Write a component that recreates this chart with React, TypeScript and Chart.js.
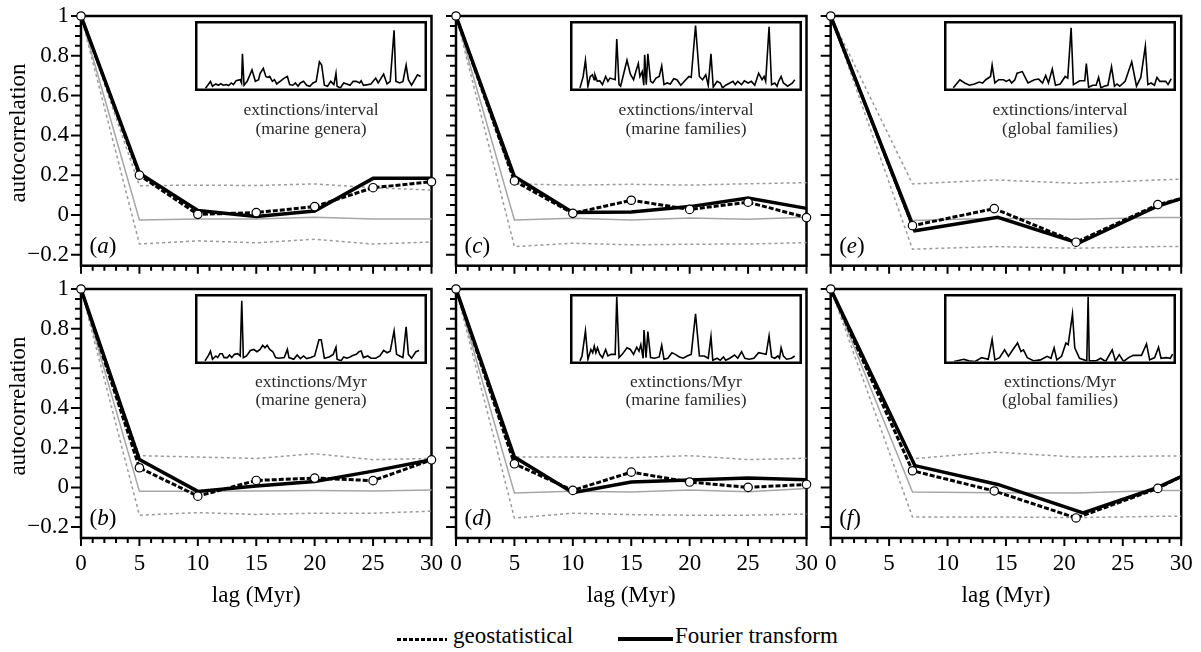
import React, { useEffect, useRef } from 'react';
import { Chart, registerables } from 'chart.js';

Chart.register(...registerables);

const FONT = "'Liberation Serif', 'Times New Roman', Times, serif";
Chart.defaults.font.family = FONT;

// ---------- axis ticks ----------
const xTickValues = [0, 5, 10, 15, 20, 25, 30];
const yTickValues = [-0.2, 0, 0.2, 0.4, 0.6, 0.8, 1];
const X_MIN = 0, X_MAX = 30, Y_MIN = -0.255, Y_MAX = 1;

// ---------- lags ----------
const lags5 = [0, 5, 10, 15, 20, 25, 30];
const lags7 = [0, 7, 14, 21, 28, 30];
const lagsFourierE = [0, 7.2, 14.3, 21.2, 28, 30];
const lagsFourierF = [0, 7.2, 14.3, 21.6, 28, 30];

// ---------- panel (a) ----------
const geoA = [1, 0.2, 0.003, 0.012, 0.042, 0.137, 0.167];
const fourierA = [1, 0.21, 0.022, -0.008, 0.02, 0.184, 0.184];
const meanA = [1, -0.025, -0.02, -0.02, -0.012, -0.02, -0.02];
const upperA = [1, 0.147, 0.15, 0.148, 0.156, 0.137, 0.125];
const lowerA = [1, -0.146, -0.13, -0.14, -0.122, -0.146, -0.136];
// ---------- panel (b) ----------
const geoB = [1, 0.099, -0.044, 0.035, 0.047, 0.034, 0.139];
const fourierB = [1, 0.14, -0.02, 0.007, 0.03, 0.082, 0.139];
const meanB = [1, -0.02, -0.02, -0.018, -0.015, -0.018, -0.013];
const upperB = [1, 0.16, 0.153, 0.146, 0.17, 0.14, 0.146];
const lowerB = [1, -0.14, -0.127, -0.136, -0.13, -0.13, -0.12];
// ---------- panel (c) ----------
const geoC = [1, 0.171, 0.008, 0.074, 0.028, 0.064, -0.013];
const fourierC = [1, 0.193, 0.013, 0.015, 0.042, 0.085, 0.033];
const meanC = [1, -0.025, -0.017, -0.025, -0.015, -0.022, -0.012];
const upperC = [1, 0.156, 0.15, 0.154, 0.15, 0.157, 0.162];
const lowerC = [1, -0.159, -0.142, -0.15, -0.147, -0.146, -0.139];
// ---------- panel (d) ----------
const geoD = [1, 0.119, -0.015, 0.077, 0.027, 0.0, 0.015];
const fourierD = [1, 0.153, -0.027, 0.027, 0.037, 0.047, 0.039];
const meanD = [1, -0.028, -0.02, -0.023, -0.013, -0.022, -0.005];
const upperD = [1, 0.153, 0.153, 0.15, 0.16, 0.14, 0.147];
const lowerD = [1, -0.154, -0.13, -0.137, -0.14, -0.14, -0.134];
// ---------- panel (e) ----------
const geoE = [1, -0.054, 0.032, -0.137, 0.052, 0.082];
const fourierE = [1, -0.079, -0.012, -0.142, 0.045, 0.082];
const meanE = [1, -0.028, -0.017, -0.022, -0.013, -0.013];
const upperE = [1, 0.156, 0.176, 0.159, 0.176, 0.18];
const lowerE = [1, -0.172, -0.159, -0.167, -0.159, -0.159];
// ---------- panel (f) ----------
const geoF = [1, 0.084, -0.018, -0.154, -0.005, 0.055];
const fourierF = [1, 0.11, 0.015, -0.129, 0.0, 0.055];
const meanF = [1, -0.023, -0.027, -0.028, -0.015, -0.015];
const upperF = [1, 0.144, 0.178, 0.153, 0.158, 0.158];
const lowerF = [1, -0.149, -0.149, -0.152, -0.146, -0.146];

// ---------- inset time series (arbitrary units, [time, value]) ----------
const insetA: [number, number][] = [
  [3.5, 0], [5.7, 11], [6.6, 3.5], [8.1, 7], [9.2, 5], [10.3, 7.5], [11.3, 5], [12.7, 6], [13.7, 4.5], [14.9, 8.5],
  [15.8, 6], [17.0, 12], [18.8, 13.5], [19.4, 8.5], [19.8, 53.5], [20.5, 5], [21.9, 11], [24.0, 28.5], [25.5, 11], [26.9, 13.5],
  [27.6, 23.5], [29.0, 31], [30.1, 18.5], [31.1, 17], [31.8, 18.5], [33.0, 11], [33.9, 13.5], [34.9, 7], [36.8, 12], [38.2, 16],
  [39.6, 18.5], [40.6, 6], [42.0, 5], [43.1, 8.5], [44.3, 3.5], [45.3, 8.5], [46.7, 11], [48.1, 5], [49.5, 3.5], [50.9, 8.5],
  [52.3, 11], [53.7, 41], [54.7, 36], [55.9, 5], [57.3, 3.5], [58.7, 11], [60.1, 6], [61.0, 23.5], [61.5, 3.5], [62.9, 1],
  [64.4, 8.5], [65.8, 7], [67.2, 5], [68.6, 11], [70.0, 11], [71.4, 8.5], [72.1, 12], [73.1, 5], [75.0, 6], [76.4, 7],
  [78.5, 16], [79.6, 8.5], [82.0, 22], [83.5, 7], [84.9, 11], [86.6, 89.5], [87.4, 11], [89.1, 8.5], [90.5, 11], [91.9, 36],
  [92.9, 13.5], [94.3, 5], [96.9, 21], [98.3, 18.5],
];
const insetB: [number, number][] = [
  [3.3, 1], [4.7, 8.5], [5.7, 16], [6.6, 3.5], [8.1, 8.5], [8.9, 6], [9.9, 12], [10.9, 12], [11.7, 6], [13.2, 6],
  [14.1, 10], [15.1, 6], [16.3, 11], [17.7, 12], [18.8, 8.5], [19.5, 93.5], [20.2, 6], [21.6, 8.5], [23.3, 17], [24.8, 18.5],
  [26.2, 15], [27.6, 18.5], [28.7, 25], [29.7, 21], [30.7, 25], [31.8, 18.5], [33.2, 15], [34.4, 6], [35.8, 5], [38.2, 6],
  [39.6, 18.5], [40.3, 6], [42.4, 3.5], [43.9, 10], [45.3, 4.5], [46.7, 8.5], [48.1, 4.5], [49.9, 6], [51.6, 8.5], [53.5, 33.5],
  [54.5, 33.5], [55.9, 5], [58.0, 7], [59.8, 11], [61.0, 22], [61.5, 3.5], [63.2, 1], [64.4, 7], [65.8, 5], [67.2, 7],
  [68.6, 9.5], [70.0, 11], [71.1, 15], [72.1, 16], [73.1, 6], [75.0, 8.5], [76.4, 5], [78.5, 5], [80.3, 8.5], [82.0, 17],
  [83.5, 13.5], [84.9, 16], [86.6, 47], [87.7, 11], [89.1, 8.5], [90.5, 6], [91.9, 53.5], [92.9, 11], [94.3, 5], [96.2, 15],
  [97.6, 17],
];
const insetC: [number, number][] = [
  [3.3, 1], [4.7, 18.5], [5.7, 43.5], [6.8, 3.5], [7.8, 18.5], [8.8, 21], [9.5, 13.5], [9.9, 21], [10.9, 11], [12.0, 12],
  [13.2, 6], [14.6, 18.5], [15.6, 11], [16.5, 16], [18.8, 13.5], [19.5, 76], [20.5, 6], [21.2, 3.5], [22.6, 23.5], [24.0, 43.5],
  [25.5, 22], [26.9, 13.5], [27.9, 26], [29.0, 38.5], [29.7, 18.5], [30.7, 26], [31.4, 5], [31.8, 52], [32.5, 6], [33.2, 53.5],
  [34.4, 11], [35.4, 8.5], [36.8, 16], [38.2, 18.5], [39.3, 35], [40.3, 6], [41.7, 8.5], [43.1, 7], [44.6, 15], [46.0, 13.5],
  [47.7, 5], [49.5, 12], [51.3, 18.5], [52.3, 17], [54.2, 97], [55.9, 18.5], [57.3, 13.5], [58.7, 21], [59.8, 5], [61.0, 53.5],
  [62.0, 2], [63.7, 11], [65.1, 8.5], [66.1, 1], [67.5, 5], [69.3, 8.5], [70.7, 11], [71.7, 6], [72.8, 11], [74.5, 6],
  [75.7, 12], [77.4, 8.5], [78.8, 11], [80.3, 5], [82.0, 23.5], [83.5, 13.5], [84.4, 18.5], [85.1, 11], [86.6, 95], [87.7, 6],
  [89.1, 8.5], [90.1, 3.5], [90.8, 11], [91.9, 18.5], [92.9, 8.5], [94.8, 3.5], [96.9, 8.5], [97.9, 13.5],
];
const insetD: [number, number][] = [
  [3.3, 1], [4.2, 8.5], [5.7, 47], [6.8, 3.5], [8.1, 18.5], [8.9, 13.5], [9.6, 23.5], [10.3, 13.5], [11.0, 21], [12.0, 11],
  [13.2, 6], [14.6, 18.5], [15.6, 8.5], [17.0, 11], [18.8, 11], [19.5, 100], [20.5, 6], [21.9, 11], [24.0, 21], [25.5, 18.5],
  [26.9, 11], [28.3, 22], [29.3, 16], [30.1, 26], [31.1, 5], [31.5, 48.5], [32.4, 6], [33.2, 46], [34.4, 6], [36.1, 5],
  [38.2, 7], [39.3, 25], [40.3, 3.5], [42.0, 5], [43.8, 13.5], [45.3, 11], [47.1, 7], [48.8, 5], [50.5, 8.5], [52.3, 11],
  [54.2, 73.5], [55.9, 8.5], [58.0, 8.5], [59.8, 5], [61.0, 38.5], [61.8, 2], [63.7, 5], [65.1, 2], [66.5, 7], [67.5, 2],
  [69.3, 5], [71.4, 10], [72.8, 5], [74.5, 15], [75.9, 5], [77.8, 3.5], [79.9, 5], [82.0, 13.5], [84.2, 12], [85.3, 11],
  [86.6, 39.5], [87.7, 7], [89.1, 5], [90.5, 8.5], [91.2, 5], [91.9, 21], [92.9, 8.5], [94.3, 3.5], [96.5, 5], [97.9, 8.5],
];
const insetE: [number, number][] = [
  [3, 1], [5.9, 13.5], [8, 8.5], [10.1, 5], [12.3, 7], [14.4, 10], [15.9, 8.5], [17.3, 13.5], [19.4, 18.5], [20.1, 36],
  [21.3, 8.5], [23, 13.5], [25.1, 13.5], [26.3, 11], [27.7, 13.5], [28.7, 8.5], [30.1, 13.5], [31.1, 23.5], [33.4, 26], [35.9, 8.5],
  [38.7, 13.5], [40.6, 14.5], [42.3, 8.5], [43.7, 20], [44.9, 8.5], [46.6, 30], [48, 5], [50.1, 7], [52.3, 18.5], [53.4, 16],
  [54.9, 93.5], [55.9, 6], [58.7, 12], [60.9, 12], [61.6, 38.5], [62.6, 2], [64.4, 5], [65.9, 5], [67, 17], [68, 1],
  [69.4, 3.5], [71.1, 5], [72.7, 33.5], [74, 3.5], [75.1, 7], [76.3, 3.5], [78.7, 11], [81.6, 41], [83.7, 3.5], [85.6, 17],
  [87.6, 65], [88.7, 6], [90.1, 8.5], [91.6, 5], [92.7, 17], [94, 11], [96.6, 11], [97.6, 6], [99, 15],
];
const insetF: [number, number][] = [
  [3.3, 0], [7.6, 3.5], [9.8, 1], [12.6, 0], [15.5, 6], [18.4, 3.5], [20.1, 34], [21.3, 2.5], [23.4, 6], [25.6, 18],
  [27.3, 8], [29.2, 18], [31.3, 28.5], [32.8, 15.5], [33.9, 18], [35.6, 6], [38.5, 1], [41.4, 2.5], [44.3, 8], [46, 5],
  [47.4, 21], [48.6, 2.5], [50.7, 8], [52.6, 28.5], [53.6, 26], [55.5, 73], [56.5, 21], [58.6, 5], [61.8, 1], [62.4, 100],
  [62.9, 1], [65.8, 1], [67.9, 5], [70.1, 0], [73, 18], [74.4, 1], [76.1, 10.5], [78, 0], [80.2, 6], [82.3, 9.5],
  [85.9, 9.5], [88.1, 27], [89.5, 2.5], [91.7, 6], [93.4, 22], [94.5, 5], [96.7, 6], [98.6, 5], [99.6, 11.5],
];

// ---------- layout ----------
const COL_CANVAS_LEFT = [0, 375, 750];
const CANVAS_W = 460;
const COL_PLOT_LEFT = [81, 81, 80.7];
const PLOT_W = 350.5;
const ROW_CANVAS_TOP = [-12, 261];
const ROW_CANVAS_H = [308, 349];
const ROW_PLOT_TOP = [28, 28];
const ROW_PLOT_H = [249.7, 249];
const INSET_LEFT = [195, 570, 944];
const INSET_TOP = [21, 294];
const INSET_W = 232;
const INSET_H = 70;
const CAPTION_TOP = [100, 371.5];

type PanelDef = {
  letter: string; col: number; row: number;
  geoX: number[]; geo: number[]; fourierX: number[]; fourier: number[];
  bandX: number[]; mean: number[]; upper: number[]; lower: number[];
  edgeLastPoint: boolean; caption: string[]; inset: [number, number][];
};

const panels: PanelDef[] = [
  { letter: 'a', col: 0, row: 0, geoX: lags5, geo: geoA, fourierX: lags5, fourier: fourierA, bandX: lags5, mean: meanA, upper: upperA, lower: lowerA, edgeLastPoint: false, caption: ['extinctions/interval', '(marine genera)'], inset: insetA },
  { letter: 'b', col: 0, row: 1, geoX: lags5, geo: geoB, fourierX: lags5, fourier: fourierB, bandX: lags5, mean: meanB, upper: upperB, lower: lowerB, edgeLastPoint: false, caption: ['extinctions/Myr', '(marine genera)'], inset: insetB },
  { letter: 'c', col: 1, row: 0, geoX: lags5, geo: geoC, fourierX: lags5, fourier: fourierC, bandX: lags5, mean: meanC, upper: upperC, lower: lowerC, edgeLastPoint: false, caption: ['extinctions/interval', '(marine families)'], inset: insetC },
  { letter: 'd', col: 1, row: 1, geoX: lags5, geo: geoD, fourierX: lags5, fourier: fourierD, bandX: lags5, mean: meanD, upper: upperD, lower: lowerD, edgeLastPoint: false, caption: ['extinctions/Myr', '(marine families)'], inset: insetD },
  { letter: 'e', col: 2, row: 0, geoX: lags7, geo: geoE, fourierX: lagsFourierE, fourier: fourierE, bandX: lags7, mean: meanE, upper: upperE, lower: lowerE, edgeLastPoint: true, caption: ['extinctions/interval', '(global families)'], inset: insetE },
  { letter: 'f', col: 2, row: 1, geoX: lags7, geo: geoF, fourierX: lagsFourierF, fourier: fourierF, bandX: lags7, mean: meanF, upper: upperF, lower: lowerF, edgeLastPoint: true, caption: ['extinctions/Myr', '(global families)'], inset: insetF },
];

const panelFramePlugin = {
  id: 'panelFrame',
  beforeDatasetsDraw(chart: any) {
    const { ctx, chartArea: a, scales } = chart;
    const xs = scales.x, ys = scales.y;
    ctx.save();
    ctx.strokeStyle = '#000';
    ctx.lineWidth = 2;
    ctx.beginPath();
    for (let i = 0; i <= 30; i++) {
      const px = xs.getPixelForValue(i);
      ctx.moveTo(px, a.bottom);
      ctx.lineTo(px, a.bottom + (i % 5 === 0 ? 8 : 5));
    }
    for (let i = -4; i <= 20; i++) {
      const py = ys.getPixelForValue(i * 0.05);
      ctx.moveTo(a.left, py);
      ctx.lineTo(a.left - (i % 4 === 0 ? 10 : 6), py);
    }
    ctx.stroke();
    ctx.lineWidth = 2.5;
    ctx.strokeRect(a.left, a.top, a.right - a.left, a.bottom - a.top);
    ctx.restore();
  },
};

const insetFramePlugin = {
  id: 'insetFrame',
  afterDatasetsDraw(chart: any) {
    const { ctx, width, height } = chart;
    ctx.save();
    ctx.strokeStyle = '#000';
    ctx.lineWidth = 2.5;
    ctx.strokeRect(1.25, 1.25, width - 2.5, height - 2.5);
    ctx.restore();
  },
};

const toPts = (xs: number[], ys: number[]) => xs.map((x, i) => ({ x, y: ys[i] }));
const fmtY = (v: number) => (v < 0 ? '\u2212' + Math.abs(v) : String(v));

function PanelChart({ p }: { p: PanelDef }) {
  const ref = useRef<HTMLCanvasElement>(null);
  const W = CANVAS_W;
  const H = ROW_CANVAS_H[p.row];
  useEffect(() => {
    const yw = COL_PLOT_LEFT[p.col];
    const xh = H - ROW_PLOT_TOP[p.row] - ROW_PLOT_H[p.row];
    const showY = p.col === 0;
    const showX = p.row === 1;
    const lastIdx = p.geoX.length - 1;
    const chart = new Chart(ref.current as HTMLCanvasElement, {
      type: 'line',
      data: {
        datasets: [
          {
            label: 'geostatistical', data: toPts(p.geoX, p.geo), borderColor: '#000', borderWidth: 3,
            borderDash: [5, 2], tension: 0, clip: false as any,
            pointRadius: (ctx: any) => (p.edgeLastPoint && ctx.dataIndex === lastIdx ? 0 : 4.2),
            pointBackgroundColor: '#fff', pointBorderColor: '#000', pointBorderWidth: 1.2,
          },
          { label: 'Fourier transform', data: toPts(p.fourierX, p.fourier), borderColor: '#000', borderWidth: 3.5, tension: 0, pointRadius: 0, clip: false as any },
          { label: 'mean', data: toPts(p.bandX, p.mean), borderColor: '#a6a6a6', borderWidth: 1.5, tension: 0, pointRadius: 0, clip: false as any },
          { label: 'upper', data: toPts(p.bandX, p.upper), borderColor: '#9a9a9a', borderWidth: 1.5, borderDash: [3, 3], tension: 0, pointRadius: 0, clip: false as any },
          { label: 'lower', data: toPts(p.bandX, p.lower), borderColor: '#9a9a9a', borderWidth: 1.5, borderDash: [3, 3], tension: 0, pointRadius: 0, clip: false as any },
        ],
      },
      options: {
        responsive: false,
        animation: false,
        events: [],
        layout: { padding: { left: 0, top: ROW_PLOT_TOP[p.row], right: W - yw - PLOT_W, bottom: 0 } },
        plugins: { legend: { display: false }, tooltip: { enabled: false } },
        scales: {
          x: {
            type: 'linear', min: X_MIN, max: X_MAX,
            afterBuildTicks: (s: any) => { s.ticks = xTickValues.map((v) => ({ value: v })); },
            afterFit: (s: any) => { s.height = xh; },
            grid: { display: false, drawTicks: false },
            border: { display: false },
            ticks: {
              display: showX, padding: 12, maxRotation: 0, autoSkip: false, color: '#000',
              font: { family: FONT, size: 23 }, callback: (v: any) => String(v),
            },
            title: { display: showX, text: 'lag (Myr)', color: '#000', font: { family: FONT, size: 23 }, padding: { top: 0, bottom: 0 } },
          },
          y: {
            type: 'linear', min: Y_MIN, max: Y_MAX,
            afterBuildTicks: (s: any) => { s.ticks = yTickValues.map((v) => ({ value: v })); },
            afterFit: (s: any) => { s.width = yw; },
            grid: { display: false, drawTicks: false },
            border: { display: false },
            ticks: {
              display: showY, padding: 12, color: '#000',
              font: { family: FONT, size: 23 }, callback: (v: any) => fmtY(Number(v)),
            },
          },
        },
      } as any,
      plugins: [panelFramePlugin],
    });
    return () => chart.destroy();
  }, []);
  return (
    <canvas
      ref={ref}
      width={W}
      height={H}
      style={{ position: 'absolute', left: COL_CANVAS_LEFT[p.col], top: ROW_CANVAS_TOP[p.row], width: W, height: H }}
    />
  );
}

function InsetChart({ p }: { p: PanelDef }) {
  const ref = useRef<HTMLCanvasElement>(null);
  useEffect(() => {
    const chart = new Chart(ref.current as HTMLCanvasElement, {
      type: 'line',
      data: {
        datasets: [
          { data: p.inset.map(([x, y]) => ({ x, y })), borderColor: '#000', borderWidth: 1.6, pointRadius: 0, tension: 0 },
        ],
      },
      options: {
        responsive: false,
        animation: false,
        events: [],
        layout: { padding: { left: 2.5, right: 2.5, top: 2.5, bottom: 2.5 } },
        plugins: { legend: { display: false }, tooltip: { enabled: false } },
        scales: {
          x: { type: 'linear', display: false, min: 0, max: 100 },
          y: { type: 'linear', display: false, min: 0, max: 100 },
        },
      } as any,
      plugins: [insetFramePlugin],
    });
    return () => chart.destroy();
  }, []);
  return (
    <canvas
      ref={ref}
      width={INSET_W}
      height={INSET_H}
      style={{ position: 'absolute', left: INSET_LEFT[p.col], top: INSET_TOP[p.row], width: INSET_W, height: INSET_H }}
    />
  );
}

const absPlotLeft = (col: number) => COL_CANVAS_LEFT[col] + COL_PLOT_LEFT[col];
const absPlotBottom = (row: number) => ROW_CANVAS_TOP[row] + ROW_PLOT_TOP[row] + ROW_PLOT_H[row];

export default function App() {
  const text = { fontFamily: FONT, color: '#000' } as const;
  return (
    <div style={{ position: 'absolute', left: 0, top: 0, width: 1201, height: 652, overflow: 'hidden', background: '#fff', ...text }}>
      {panels.map((p) => (
        <PanelChart key={'c' + p.letter} p={p} />
      ))}
      {panels.map((p) => (
        <InsetChart key={'i' + p.letter} p={p} />
      ))}
      {panels.map((p) => (
        <div
          key={'cap' + p.letter}
          style={{
            position: 'absolute', left: INSET_LEFT[p.col], top: CAPTION_TOP[p.row], width: INSET_W,
            textAlign: 'center', fontSize: 17.5, lineHeight: '18.5px', color: '#2a2a2a', whiteSpace: 'nowrap',
          }}
        >
          {p.caption[0]}
          <br />
          {p.caption[1]}
        </div>
      ))}
      {panels.map((p) => (
        <div
          key={'lt' + p.letter}
          style={{
            position: 'absolute', left: absPlotLeft(p.col) + 8.5, top: absPlotBottom(p.row) - 21,
            transform: 'translateY(-50%)', fontSize: 23, lineHeight: '23px', whiteSpace: 'nowrap',
          }}
        >
          (<i>{p.letter}</i>)
        </div>
      ))}
      {[0, 1].map((row) => (
        <div
          key={'yl' + row}
          style={{
            position: 'absolute', left: 17, top: row === 0 ? 133 : 406,
            transform: 'translate(-50%, -50%) rotate(-90deg)', fontSize: 23, lineHeight: '23px', whiteSpace: 'nowrap',
          }}
        >
          autocorrelation
        </div>
      ))}
      {/* legend */}
      <div
        style={{
          position: 'absolute', left: 397, top: 637.5, width: 50, height: 3,
          background: 'repeating-linear-gradient(to right, #000 0px, #000 4px, transparent 4px, transparent 6px)',
        }}
      />
      <div style={{ position: 'absolute', left: 453, top: 635, transform: 'translateY(-50%)', fontSize: 23, lineHeight: '23px', whiteSpace: 'nowrap' }}>
        geostatistical
      </div>
      <div style={{ position: 'absolute', left: 618, top: 637.3, width: 55, height: 3.5, background: '#000' }} />
      <div style={{ position: 'absolute', left: 675, top: 635, transform: 'translateY(-50%)', fontSize: 23, lineHeight: '23px', whiteSpace: 'nowrap' }}>
        Fourier transform
      </div>
    </div>
  );
}
